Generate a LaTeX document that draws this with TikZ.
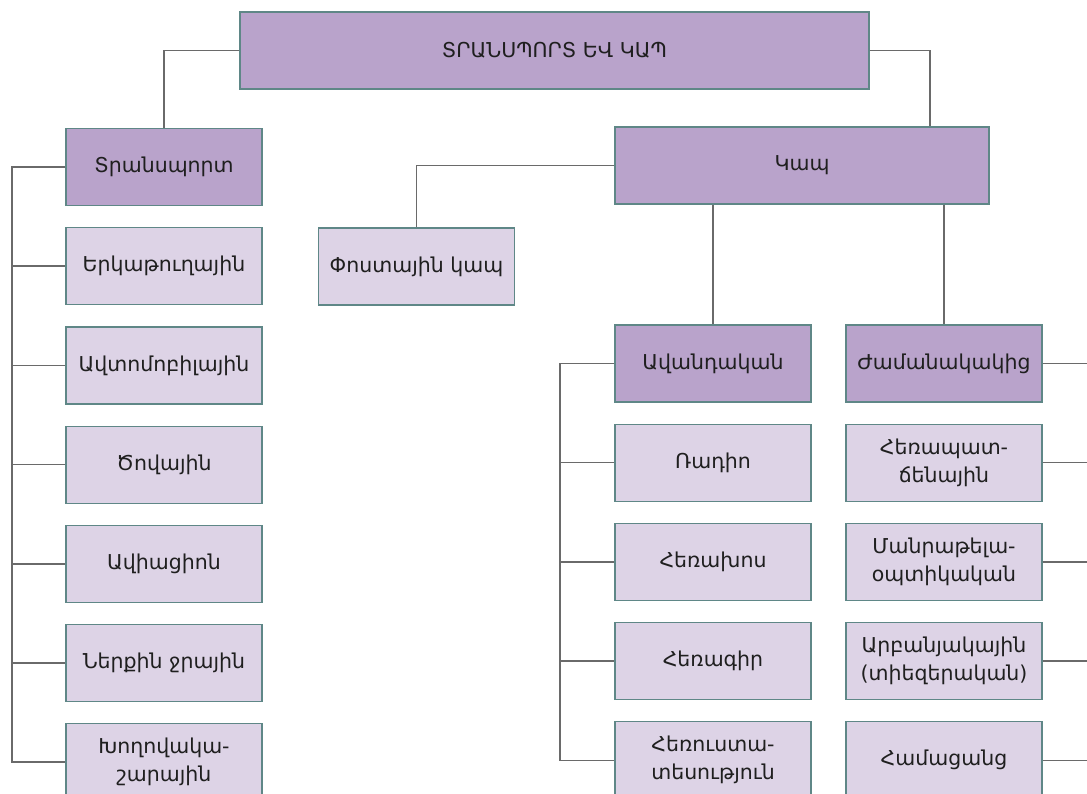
\documentclass[tikz,border=0pt]{standalone}
\usepackage{fontspec}
\setmainfont{DejaVu Sans}
\usetikzlibrary{positioning}

\definecolor{darkbox}{HTML}{B9A3CB}
\definecolor{lightbox}{HTML}{DDD3E6}
\definecolor{boxline}{HTML}{5F8787}
\definecolor{linkgray}{HTML}{6A6A6A}

\tikzset{
  headbox/.style={draw=boxline, line width=1.2pt, fill=darkbox, minimum height=77pt,
    minimum width=196pt, inner xsep=2pt, text=black!88, align=center,
    font=\fontsize{20.5}{28}\selectfont},
  itembox/.style={headbox, fill=lightbox},
  link/.style={draw=linkgray, line width=1.5pt}
}

\begin{document}
\begin{tikzpicture}[x=1pt, y=-1pt, node distance=21pt]
        \useasboundingbox (0,0) rectangle (1087,793);
        \clip (0,0) rectangle (1087,793);

        \node[headbox, minimum width=629pt] (top) at (554.5,50.5) {ՏՐԱՆՍՊՈՐՏ ԵՎ ԿԱՊ};
        \node[headbox] (trans) at (164,167) {Տրանսպորտ};
        \node[headbox, minimum width=374pt] (kap) at (802,165.5) {Կապ};
        \node[itembox] (post) at (416.5,266.5) {Փոստային կապ};
        \node[headbox] (avand) at (713,363.5) {Ավանդական};
        \node[headbox] (zham) at (944,363.5) {Ժամանակակից};

        \node[itembox, below=of trans] (erk) {Երկաթուղային};
        \node[itembox, below=of erk] (avto) {Ավտոմոբիլային};
        \node[itembox, below=of avto] (tsov) {Ծովային};
        \node[itembox, below=of tsov] (avia) {Ավիացիոն};
        \node[itembox, below=of avia] (nerq) {Ներքին ջրային};
        \node[itembox, below=of nerq] (khogh) {Խողովակա-\\շարային};

        \node[itembox, below=of avand] (radio) {Ռադիո};
        \node[itembox, below=of radio] (herakh) {Հեռախոս};
        \node[itembox, below=of herakh] (herag) {Հեռագիր};
        \node[itembox, below=of herag] (herust) {Հեռուստա-\\տեսություն};

        \node[itembox, below=of zham] (herap) {Հեռապատ-\\ճենային};
        \node[itembox, below=of herap] (manr) {Մանրաթելա-\\օպտիկական};
        \node[itembox, below=of manr] (arban) {Արբանյակային\\(տիեզերական)};
        \node[itembox, below=of arban] (hamac) {Համացանց};

        \coordinate (lbus) at (12,0);
        \coordinate (abus) at (560,0);
        \coordinate (zbus) at (1100,0);

        \draw[link] (top.west) -| (trans.north);
        \draw[link] (top.east) -| ([xshift=128pt]kap.north);
        \draw[link] (kap.west) -| (post.north);
        \draw[link] (avand.north |- kap.south) -- (avand.north);
        \draw[link] (zham.north |- kap.south) -- (zham.north);

        \draw[link] (trans.west) -- (trans.west -| lbus) -- (khogh.west -| lbus) -- (khogh.west);
        \draw[link] (erk.west -| lbus) -- (erk.west);
        \draw[link] (avto.west -| lbus) -- (avto.west);
        \draw[link] (tsov.west -| lbus) -- (tsov.west);
        \draw[link] (avia.west -| lbus) -- (avia.west);
        \draw[link] (nerq.west -| lbus) -- (nerq.west);

        \draw[link] (avand.west) -- (avand.west -| abus) -- (herust.west -| abus) -- (herust.west);
        \draw[link] (radio.west -| abus) -- (radio.west);
        \draw[link] (herakh.west -| abus) -- (herakh.west);
        \draw[link] (herag.west -| abus) -- (herag.west);

        \draw[link] (zham.east) -- (zham.east -| zbus) -- (hamac.east -| zbus) -- (hamac.east);
        \draw[link] (herap.east) -- (herap.east -| zbus);
        \draw[link] (manr.east) -- (manr.east -| zbus);
        \draw[link] (arban.east) -- (arban.east -| zbus);
    \end{tikzpicture}
\end{document}
